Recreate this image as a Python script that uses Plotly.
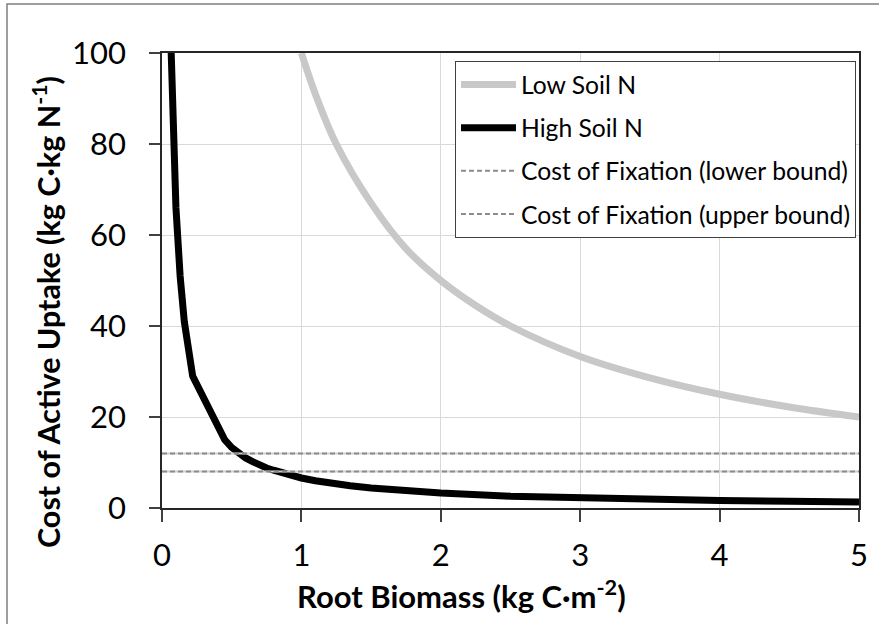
import plotly.graph_objects as go

# ---- data ----
root_low = [1.0, 1.1, 1.25, 1.5, 1.75, 2.0, 2.25, 2.5, 3.0, 3.5, 4.0, 4.5, 5.0]
cost_low = [100, 91, 80, 67, 57, 50, 44.5, 40, 33.3, 28.6, 25, 22.2, 20]

root_high = [0.066, 0.08, 0.1, 0.13, 0.16, 0.22, 0.45, 0.5, 0.55, 0.6, 0.65, 0.7, 0.75,
             0.8, 0.85, 0.9, 0.95, 1.0, 1.1, 1.2, 1.35, 1.5, 1.75, 2.0, 2.5,
             3.0, 3.5, 4.0, 4.5, 5.0]
cost_high = [100, 83, 66, 51, 41, 29, 15.0, 13.3, 12.0, 11.0, 10.2, 9.4, 8.8,
             8.3, 7.8, 7.3, 7.0, 6.6, 6.0, 5.5, 4.9, 4.4, 3.8, 3.3, 2.6,
             2.2, 1.9, 1.65, 1.47, 1.32]

fix_x = [0, 5]
fix_lower = [8, 8]
fix_upper = [12, 12]

x_ticks = [0, 1, 2, 3, 4, 5]
y_ticks = [0, 20, 40, 60, 80, 100]

FONT = "Lato"

fig = go.Figure()
fig.add_trace(go.Scatter(x=root_low, y=cost_low, mode="lines", name="Low Soil N",
                         line=dict(color="#c8c8c8", width=7, shape="spline"),
                         legendgroup="a"))
fig.add_trace(go.Scatter(x=root_high, y=cost_high, mode="lines", name="High Soil N",
                         line=dict(color="#000000", width=7), legendgroup="b"))
for yv, nm, g in [(fix_lower, "Cost of Fixation (lower bound)", "c"),
                  (fix_upper, "Cost of Fixation (upper bound)", "d")]:
    fig.add_trace(go.Scatter(x=fix_x, y=yv, mode="lines", showlegend=False,
                             line=dict(color="#cfcfcf", width=2), hoverinfo="skip"))
    fig.add_trace(go.Scatter(x=fix_x, y=yv, mode="lines", name=nm, legendgroup=g,
                             line=dict(color="#8c8c8c", width=2, dash="5px,3px")))

L, R, T, B = 162, 20, 53, 116
W, H = 879, 624
pw, ph = W - L - R, H - T - B

fig.update_layout(
    width=W, height=H,
    margin=dict(l=L, r=R, t=T, b=B, pad=0),
    paper_bgcolor="white", plot_bgcolor="white",
    font=dict(family=FONT, color="#000000"),
    showlegend=True,
    legend=dict(x=(455 - L) / pw, y=(H - B - 61) / ph, xanchor="left", yanchor="top",
                bgcolor="white", bordercolor="#404040", borderwidth=1,
                font=dict(family=FONT, size=24.7, color="#000"),
                itemwidth=55, tracegroupgap=8, traceorder="grouped"),
)
fig.update_xaxes(range=[0, 5], tickvals=x_ticks, ticktext=[str(v) for v in x_ticks],
                 showgrid=True, gridcolor="#d9d9d9", gridwidth=1,
                 showline=True, linecolor="#262626", linewidth=1.5, mirror=True,
                 ticks="outside", ticklen=12, tickcolor="#404040", tickwidth=1.5,
                 tickfont=dict(family=FONT, size=31), ticklabelstandoff=7,
                 zeroline=False)
fig.update_yaxes(range=[0, 100], tickvals=y_ticks, ticktext=[str(v) for v in y_ticks],
                 showgrid=True, gridcolor="#d9d9d9", gridwidth=1,
                 showline=True, linecolor="#262626", linewidth=1.5, mirror=True,
                 ticks="outside", ticklen=11, tickcolor="#404040", tickwidth=1.5,
                 tickfont=dict(family=FONT, size=31), ticklabelstandoff=17,
                 zeroline=False)

# axis titles
fig.add_annotation(text="Root Biomass (kg C·m<sup>-2</sup>)", xref="paper", yref="paper",
                   x=(461 - L) / pw, y=(H - B - 594) / ph, showarrow=False,
                   xanchor="center", yanchor="middle",
                   font=dict(family=FONT, size=31, color="#000", weight="bold"))
fig.add_annotation(text="Cost of Active Uptake (kg C·kg N<sup>-1</sup>)", xref="paper",
                   yref="paper", x=(46 - L) / pw, y=(H - B - 312) / ph, showarrow=False,
                   textangle=-90, xanchor="center", yanchor="middle",
                   font=dict(family=FONT, size=30.5, color="#000", weight="bold"))

# outer chart border
fig.add_shape(type="rect", xref="paper", yref="paper",
              x0=(7 - L) / pw, x1=(W + 20 - L) / pw,
              y0=(H - B - (H + 20)) / ph, y1=(H - B - 4) / ph,
              line=dict(color="#7f7f7f", width=1.5), fillcolor="rgba(0,0,0,0)")

fig.write_html("out.html")
